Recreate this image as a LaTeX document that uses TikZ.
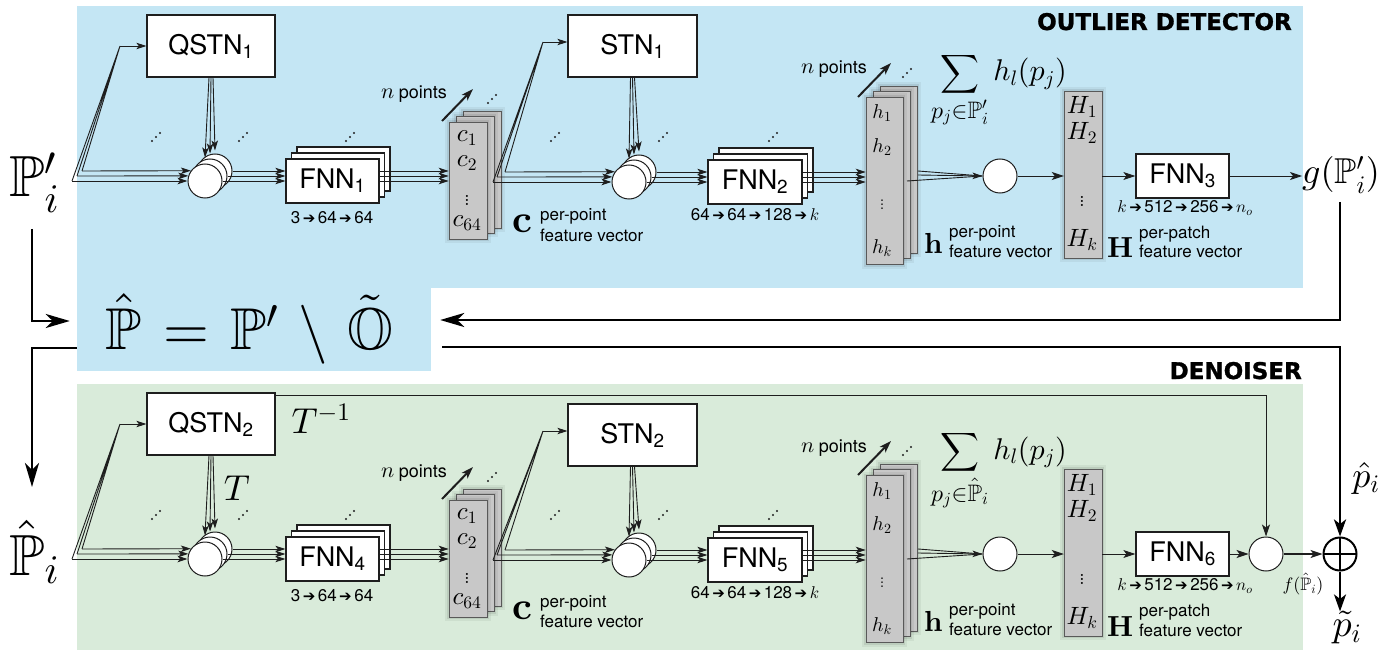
\documentclass[tikz,border=0pt]{standalone}
\usepackage{amsmath,amssymb}
\usepackage[no-math]{fontspec}
\setsansfont{TeX Gyre Heros}
\newfontfamily\djv{DejaVu Sans}
\newfontfamily\djvheavy{DejaVu Sans Bold}[FakeBold=1.2]
\DeclareFontFamily{U}{msb}{}
\DeclareFontShape{U}{msb}{m}{n}{<-> msbm10}{}
\DeclareFontFamily{OML}{cmm}{\skewchar\font127 }
\DeclareFontShape{OML}{cmm}{m}{it}{<-> cmmi10}{}
\DeclareFontShape{OML}{cmm}{b}{it}{<-> cmmib10}{}
\DeclareFontFamily{OMS}{cmsy}{\skewchar\font48 }
\DeclareFontShape{OMS}{cmsy}{m}{n}{<-> cmsy10}{}
\DeclareFontShape{OMS}{cmsy}{b}{n}{<-> cmbsy10}{}
\DeclareFontFamily{OMX}{cmex}{}
\DeclareFontShape{OMX}{cmex}{m}{n}{<-> cmex10}{}
\DeclareFontFamily{OT1}{cmr}{\hyphenchar\font45 }
\DeclareFontShape{OT1}{cmr}{m}{n}{<-> cmr10}{}
\DeclareFontShape{OT1}{cmr}{bx}{n}{<-> cmbx10}{}
\usetikzlibrary{arrows.meta,calc}
\definecolor{bgblue}{RGB}{196,230,244}
\definecolor{bggreen}{RGB}{217,235,218}
\definecolor{stackgray}{RGB}{200,200,200}
\definecolor{ink}{RGB}{30,30,30}
\newcommand\fs[2]{\fontsize{#1}{#2}\selectfont}
\newcommand\rar{{\djv\fs{15}{15}\,➔\,}}
\newcommand\npts{{\fs{22}{22}$n$} {\fs{18}{18}points}}
\newcommand\diagdots[1]{\fill[ink] (#1) +(-4,4) circle (1.1pt) (#1) circle (1.1pt) (#1) +(4,-4) circle (1.1pt);}
\tikzset{
  thinarr/.style={-{Stealth[length=10pt,width=6.5pt,inset=2.5pt]}},
  medarr/.style={-{Stealth[length=12pt,width=8pt,inset=3pt]}},
  bigarr/.style={-{Stealth[length=24pt,width=14pt,inset=7pt]}},
  bigarrb/.style={-{Stealth[length=17pt,width=12pt,inset=4.5pt]}},
  flow/.style={line width=0.9pt, draw=ink},
  net/.style={draw=ink, line width=1.3pt, fill=white, font=\sffamily\fs{27}{27}, inner sep=0pt},
  ring/.style={circle, draw=ink, line width=1pt, fill=white, minimum size=34pt, inner sep=0pt},
  feat/.style={draw=gray!70!black, line width=0.5pt, fill=stackgray, inner sep=0pt,
     preaction={draw=black, draw opacity=0.05, line width=8pt},
     preaction={draw=black, draw opacity=0.08, line width=4pt}},
  small/.style={font=\sffamily\fs{17}{17}, inner sep=0pt},
  lbl/.style={font=\sffamily\fs{17}{17}, inner sep=0pt},
  ent/.style={inner sep=0pt},
  feedback/.style={line width=2.9pt, draw=black},
  ttl/.style={font=\djvheavy\fs{23}{23}, inner sep=0pt},
  oplus/.style={circle, draw=black, line width=2pt, fill=white, minimum size=33pt, inner sep=0pt,
    path picture={\draw[line width=1.6pt] (path picture bounding box.north) -- (path picture bounding box.south)
      (path picture bounding box.west) -- (path picture bounding box.east);}},
}
\newcommand\rowbody{%
\node[net,minimum width=128pt,minimum height=62pt] (q\rs) at (211,46) {\qlab};
\coordinate (ia\rs) at (72,181);
\coordinate (ib\rs) at (77,176);
\coordinate (ic\rs) at (82,171);
\coordinate (jq\rs) at (120,46);
\draw[flow] (ia\rs) -- (jq\rs) (ib\rs) -- (jq\rs) (ic\rs) -- (jq\rs);
\draw[flow,thinarr] (jq\rs) -- (q\rs.west);
\node[ring] (mc\rs) at (215,171) {};
\node[ring] (mb\rs) at (210,176) {};
\node[ring] (ma\rs) at (205,181) {};
\draw[flow,thinarr] (ia\rs) -- (ma\rs.west);
\draw[flow,thinarr] (ib\rs) -- (ma\rs.163);
\draw[flow,thinarr] (ic\rs) -- (ma\rs.144);
\draw[flow,thinarr] ($(q\rs.south)+(-2,0)$) -- ($(ma\rs.north)+(0,-6)$);
\draw[flow,thinarr] (q\rs.south) -- ($(mb\rs.north)+(0,-5)$);
\draw[flow,thinarr] ($(q\rs.south)+(2,0)$) -- ($(mc\rs.north)+(0,-3)$);
\diagdots{156,137}\diagdots{243,137}\diagdots{350,137}
% FNN first
\node[net,minimum width=93pt,minimum height=44pt] (fc\rs) at (343.5,169) {};
\node[net,minimum width=93pt,minimum height=44pt] (fb\rs) at (338,175) {};
\node[net,minimum width=93pt,minimum height=44pt] (fa\rs) at (332.5,181) {\falab};
\draw[flow,thinarr] (mc\rs.east) -- (mc\rs.east -| fa\rs.west);
\draw[flow,thinarr] (mb\rs.east) -- (mb\rs.east -| fa\rs.west);
\draw[flow,thinarr] (ma\rs.east) -- (fa\rs.west);
\node[lbl] (fal\rs) at (332,218) {3\rar64\rar64};
% c stack
\node[feat,minimum width=38pt,minimum height=117pt] (cc\rs) at (482,169.5) {};
\node[feat,minimum width=38pt,minimum height=117pt] (cb\rs) at (475,175) {};
\node[feat,minimum width=38pt,minimum height=117pt] (ca\rs) at (468,180.5) {};
\draw[flow,thinarr] (fa\rs.east |- mc\rs) -- (ca\rs.west |- mc\rs);
\draw[flow,thinarr] (fa\rs.east |- mb\rs) -- (ca\rs.west |- mb\rs);
\draw[flow,thinarr] (fa\rs.east) -- (ca\rs.west |- fa\rs);
\node[ent,font=\fs{25}{25}] (cea\rs) at (467,138) {$c_1$};
\node[ent,font=\fs{25}{25}] (ceb\rs) at (467,163) {$c_2$};
\node[ent,font=\fs{25}{25}] (cev\rs) at (467,197) {$\vdots$};
\node[ent,font=\fs{25}{25}] (cez\rs) at (467,223) {$c_{64}$};
\node[small,anchor=base] (npc\rs) at (414,99) {\npts};
\coordinate (npa\rs) at (442,121);
\coordinate (npb\rs) at (473,89);
\draw[line width=2pt,draw=ink,medarr] (npa\rs) -- (npb\rs);
\diagdots{492,99}
\node[ent,font=\fs{39}{39},anchor=base west] (cbold\rs) at (512,{233+\clsh}) {$\mathbf{c}$};
\node[small,anchor=base west] (cpp\rs) at (540,{221+\clsh}) {per-point};
\node[small,anchor=base west] (cfv\rs) at (540,{241+\clsh}) {feature vector};
% STN
\coordinate (ka\rs) at (493,182);
\coordinate (kb\rs) at (497,177);
\coordinate (kc\rs) at (505,172);
\coordinate (js\rs) at (543,{42+\stnsh});
\node[net,minimum width=129pt,minimum height=62pt] (s\rs) at (632.5,{46+\stnsh}) {\slab};
\draw[flow] (ka\rs) -- (js\rs) (kb\rs) -- (js\rs) (kc\rs) -- (js\rs);
\draw[flow,thinarr] (js\rs) -- (js\rs -| s\rs.west);
\node[ring] (nc\rs) at (639,172) {};
\node[ring] (nb\rs) at (634,177) {};
\node[ring] (na\rs) at (629,182) {};
\draw[flow,thinarr] (ka\rs) -- (na\rs.west);
\draw[flow,thinarr] (kb\rs) -- (na\rs.163);
\draw[flow,thinarr] (kc\rs) -- (na\rs.144);
\draw[flow,thinarr] ($(s\rs.south)+(-2,0)$) -- ($(na\rs.north)+(0,-6)$);
\draw[flow,thinarr] (s\rs.south) -- ($(nb\rs.north)+(0,-5)$);
\draw[flow,thinarr] ($(s\rs.south)+(2,0)$) -- ($(nc\rs.north)+(0,-3)$);
\diagdots{555,137}\diagdots{663,137}\diagdots{773,137}
% FNN second
\node[net,minimum width=94pt,minimum height=44pt] (gc\rs) at (766,170) {};
\node[net,minimum width=94pt,minimum height=44pt] (gb\rs) at (760.5,176) {};
\node[net,minimum width=94pt,minimum height=44pt] (ga\rs) at (755,182) {\fblab};
\draw[flow,thinarr] (nc\rs.east) -- (nc\rs.east -| ga\rs.west);
\draw[flow,thinarr] (nb\rs.east) -- (nb\rs.east -| ga\rs.west);
\draw[flow,thinarr] (na\rs.east) -- (ga\rs.west);
\node[lbl] (gal\rs) at (755,215) {64\rar64\rar128\rar$k$};
% h stack
\node[feat,minimum width=37pt,minimum height=167pt] (hc\rs) at (898.5,169.5) {};
\node[feat,minimum width=37pt,minimum height=167pt] (hb\rs) at (891.5,175) {};
\node[feat,minimum width=37pt,minimum height=167pt] (ha\rs) at (884.5,181) {};
\draw[flow,thinarr] (ga\rs.east |- nc\rs) -- (ha\rs.west |- nc\rs);
\draw[flow,thinarr] (ga\rs.east |- nb\rs) -- (ha\rs.west |- nb\rs);
\draw[flow,thinarr] (ga\rs.east) -- (ha\rs.west |- ga\rs);
\node[ent,font=\fs{20}{20}] (hea\rs) at (882,113) {$h_1$};
\node[ent,font=\fs{20}{20}] (heb\rs) at (882,147) {$h_2$};
\node[ent,font=\fs{20}{20}] (hev\rs) at (882,202) {$\vdots$};
\node[ent,font=\fs{20}{20}] (hez\rs) at (882,248) {$h_k$};
\node[small,anchor=base] (nph\rs) at (834,74) {\npts};
\coordinate (nqa\rs) at (858,97);
\coordinate (nqb\rs) at (891,63);
\draw[line width=2pt,draw=ink,medarr] (nqa\rs) -- (nqb\rs);
\diagdots{907,73}
\node[ent,anchor=base west] (sum\rs) at (931,81)
  {\fs{27}{27}$\displaystyle\sum_{\mbox{\fs{34}{34}$\scriptstyle\sumsub$}}$\fs{30}{30}$\,h_l(p_j)$};
\node[ent,font=\fs{29}{29},anchor=base west] (hbold\rs) at (924,253) {$\mathbf{h}$};
\node[small,anchor=base west] (hpp\rs) at (949,237) {per-point};
\node[small,anchor=base west] (hfv\rs) at (949,257) {feature vector};
% pooling
\node[ring] (k\rs) at (1000,176) {};
\coordinate (ua\rs) at (918,171);
\coordinate (ub\rs) at (918,175);
\coordinate (uc\rs) at (907,181);
\draw[flow] (ua\rs) -- (k\rs.west) (uc\rs) -- (k\rs.west);
\draw[flow,thinarr] (ub\rs) -- (k\rs.west);
% H
\node[feat,minimum width=38pt,minimum height=167pt] (H\rs) at (1083,174.5) {};
\node[ent,font=\fs{25}{25}] (Hea\rs) at (1082,107) {$H_1$};
\node[ent,font=\fs{25}{25}] (Heb\rs) at (1082,133) {$H_2$};
\node[ent,font=\fs{25}{25}] (Hev\rs) at (1082,198) {$\vdots$};
\node[ent,font=\fs{25}{25}] (Hez\rs) at (1082,240) {$H_k$};
\draw[flow,medarr] (k\rs.east) -- (k\rs.east -| H\rs.west);
\node[net,minimum width=93pt,minimum height=44pt] (f3\rs) at (1182.5,176) {\fclab};
\draw[flow,medarr] (H\rs.east |- k\rs) -- (f3\rs.west);
\node[lbl] (f3l\rs) at (1185,208) {$k$\rar512\rar256\rar$n_o$};
\node[ent,font=\fs{29}{29},anchor=base west] (Hbold\rs) at (1107,258) {$\mathbf{H}$};
\node[small,anchor=base west] (Hpp\rs) at (1139,238) {per-patch};
\node[small,anchor=base west] (Hfv\rs) at (1139,258) {feature vector};
}
\begin{document}
\begin{tikzpicture}[x=1pt,y=-1pt]
\useasboundingbox (0,0) rectangle (1400,655);
\fill[bgblue] (77,6) rectangle (1303,288);
\fill[bggreen] (77,384) rectangle (1303,650);
\node[fill=bgblue,minimum width=354pt,minimum height=84pt,inner sep=0pt,font=\fs{59}{59}] (eq) at (254,329)
  {$\hat{\mathbb{P}} \mathrel{\mskip1.5mu=\mskip1.5mu} \mathbb{P}' \mathbin{\mskip2mu\setminus\mskip2mu} \tilde{\mathbb{O}}$\kern9pt};
\node[ttl,anchor=base east] (t1) at (1292,30) {OUTLIER DETECTOR};
\node[ttl,anchor=base east] (t2) at (1302,379) {DENOISER};
% top row
\def\rs{1}\def\qlab{QSTN\textsubscript{1}}\def\slab{STN\textsubscript{1}}%
\def\falab{FNN\textsubscript{1}}\def\fblab{FNN\textsubscript{2}}\def\fclab{FNN\textsubscript{3}}%
\def\sumsub{p_j\in\mathbb{P}'_i}\def\stnsh{0}\def\clsh{0}%
\rowbody
% bottom row
\begin{scope}[yshift=-378pt]
\def\rs{2}\def\qlab{QSTN\textsubscript{2}}\def\slab{STN\textsubscript{2}}%
\def\falab{FNN\textsubscript{4}}\def\fblab{FNN\textsubscript{5}}\def\fclab{FNN\textsubscript{6}}%
\def\sumsub{p_j\in\hat{\mathbb{P}}_i}\def\stnsh{11}\def\clsh{8}%
\rowbody
\end{scope}
% inputs and outputs
\node[ent,anchor=base west,font=\fs{58}{58}] (pin) at (9,197) {$\mathbb{P}'_i$};
\node[ent,anchor=base west,font=\fs{58}{58}] (phat) at (9,575) {$\hat{\mathbb{P}}_i$};
\node[ent,anchor=west,font=\fs{36}{36}] (gout) at (1302,175) {$g(\mathbb{P}'_i)$};
\draw[flow,medarr] (f31.east) -- (gout.west |- f31.east);
\node[ent,font=\fs{36}{36}] (tinv) at (321,419) {$T^{-1}$};
\node[ent,font=\fs{36}{36}] (tt) at (237,488) {$T$};
% denoiser output
\node[ring] (o2) at (1266,554) {};
\node[oplus] (opl) at (1340,554) {};
\draw[line width=1pt,draw=ink,medarr] ([yshift=-3pt]q2.north east) -| (o2.north);
\draw[flow,medarr] (f32.east) -- (o2.west);
\draw[line width=1.3pt,draw=ink,medarr] (o2.east) -- (opl.west);
\node[ent,font=\fs{18}{18}] (fout) at (1303,584) {$f(\hat{\mathbb{P}}_i)$};
\node[ent,font=\fs{36}{36}] (phi) at (1366,478) {$\hat{p}_i$};
\node[ent,font=\fs{38}{38}] (ptil) at (1347,628) {$\tilde{p}_i$};
\draw[line width=2pt,bigarrb] (opl.south) -- (opl.south |- ptil.north);
% feedback connectors
\coordinate (fbl) at (32,229);
\coordinate (fbl2) at (32,487);
\coordinate (gdn) at (1340,202);
\draw[feedback,bigarr,shorten >=7pt] (fbl) |- ([yshift=8pt]eq.west);
\draw[feedback,bigarr] ([yshift=-19pt]eq.west) -| (fbl2);
\draw[feedback,bigarr,shorten >=9pt] (gdn) |- ([yshift=9pt]eq.east);
\draw[feedback,bigarrb,shorten <=11pt] ([yshift=-18pt]eq.east) -| (opl.north);
\end{tikzpicture}
\end{document}
